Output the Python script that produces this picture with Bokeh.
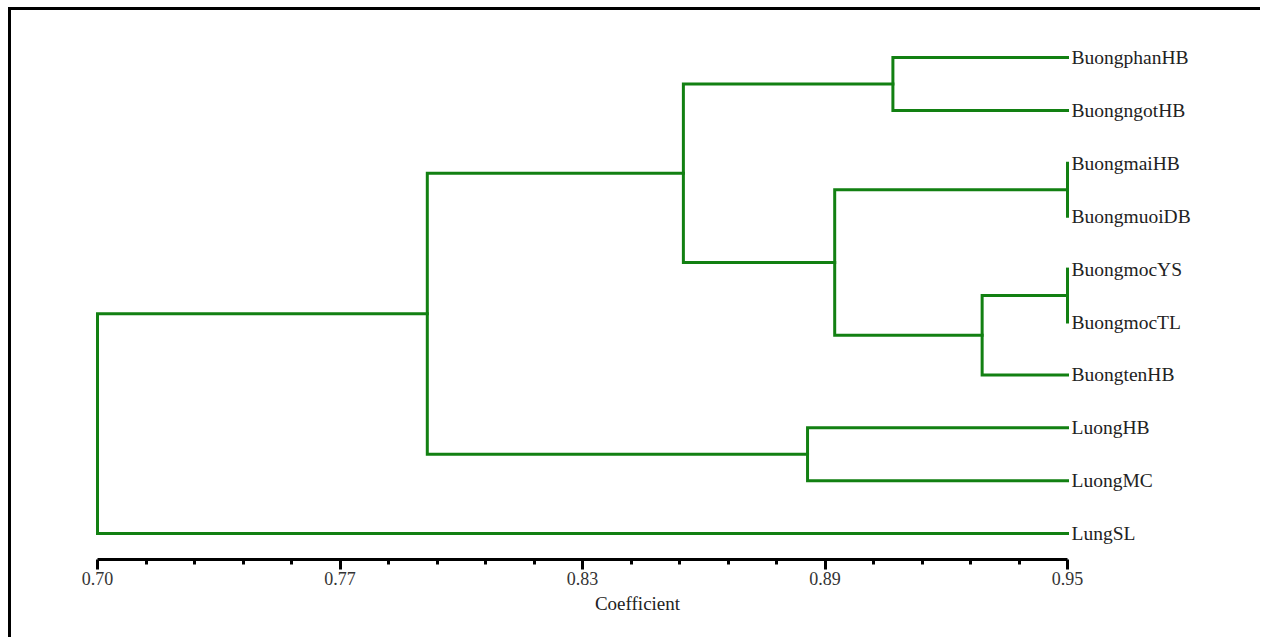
from bokeh.plotting import figure
from bokeh.models import Range1d, FixedTicker, ColumnDataSource
from bokeh.core.properties import value
from bokeh.embed import file_html
from bokeh.resources import INLINE

# ---- data ----
leaves = ["BuongphanHB", "BuongngotHB", "BuongmaiHB", "BuongmuoiDB", "BuongmocYS",
          "BuongmocTL", "BuongtenHB", "LuongHB", "LuongMC", "LungSL"]
# merges: node ids 0..9 are leaves, 10.. are clusters in merge order
merge_a = [2, 4, 11, 0, 10, 7, 13, 16, 17]
merge_b = [3, 5, 6, 1, 12, 8, 14, 15, 9]
merge_h = [0.950, 0.950, 0.928, 0.905, 0.890, 0.883, 0.851, 0.785, 0.700]
leaf_h = 0.95

tick_pos = [0.70, 0.7625, 0.825, 0.8875, 0.95]
tick_labels = ["0.70", "0.77", "0.83", "0.89", "0.95"]
minor_pos = [0.7125, 0.725, 0.7375, 0.75, 0.775, 0.7875, 0.80, 0.8125,
             0.8375, 0.85, 0.8625, 0.875, 0.90, 0.9125, 0.925, 0.9375]
axis_title = "Coefficient"

# ---- build dendrogram segments from linkage ----
n = len(leaves)
node_y = {i: float(i) for i in range(n)}
node_h = {i: leaf_h for i in range(n)}
xs, ys = [], []
pending = list(range(len(merge_h)))
while pending:
    for k in list(pending):
        a, b = merge_a[k], merge_b[k]
        if a in node_y and b in node_y:
            h = merge_h[k]
            xs.append([node_h[a], h, h, node_h[b]])
            ys.append([node_y[a], node_y[a], node_y[b], node_y[b]])
            node_y[n + k] = (node_y[a] + node_y[b]) / 2
            node_h[n + k] = h
            pending.remove(k)

W, H = 1252, 630
px_per_unit = 3880.0
x0_px = 86.0
frame_h = 549
y_top_px = 47.0
step = 52.9

p = figure(width=W, height=H, output_backend="svg", toolbar_location=None,
           y_axis_location=None,
           x_range=Range1d(0.70 - x0_px / px_per_unit, 0.70 + (W - x0_px) / px_per_unit),
           y_range=Range1d((frame_h - y_top_px) / step, -y_top_px / step),
           min_border_left=0, min_border_right=0, min_border_top=0,
           min_border_bottom=H - frame_h)
p.styles = {"border-top": "3px solid black", "border-left": "3px solid black",
            "margin-top": "7px", "margin-left": "8px"}
p.outline_line_color = None
p.grid.visible = False
p.background_fill_color = "white"
p.border_fill_color = "white"

src = ColumnDataSource(dict(xs=xs, ys=ys))
p.multi_line("xs", "ys", source=src, line_color="#128012", line_width=3,
             line_join="miter", line_cap="square")

lab = ColumnDataSource(dict(x=[leaf_h] * n, y=list(range(n)), t=leaves))
p.text("x", "y", text="t", source=lab, x_offset=4, text_baseline="middle",
       text_align="left", text_font=value("Liberation Serif"),
       text_font_size="19.5px", text_color="#222222")

ax = p.xaxis[0]
ax.ticker = FixedTicker(ticks=tick_pos, minor_ticks=minor_pos)
ax.major_label_overrides = {t: l for t, l in zip(tick_pos, tick_labels)}
ax.bounds = (0.70, 0.95)
ax.axis_line_width = 3
ax.axis_line_color = "black"
ax.major_tick_line_width = 3
ax.minor_tick_line_width = 3
ax.major_tick_out = 10
ax.major_tick_in = 0
ax.minor_tick_out = 5
ax.minor_tick_in = 0
ax.major_label_standoff = 2
ax.major_label_text_font = "Liberation Serif"
ax.major_label_text_font_size = "18px"
ax.major_label_text_color = "#333333"
ax.axis_label = axis_title
ax.axis_label_standoff = 5
ax.axis_label_text_font = "Liberation Serif"
ax.axis_label_text_font_size = "19px"
ax.axis_label_text_font_style = "normal"
ax.axis_label_text_color = "#222222"

open("out.html", "w").write(file_html(p, INLINE))
